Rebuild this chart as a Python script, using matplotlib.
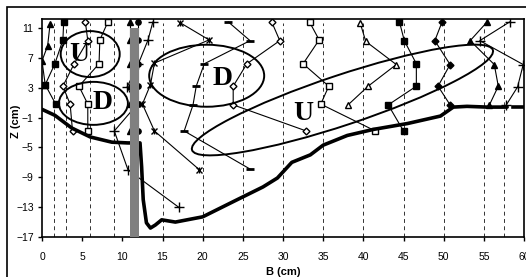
import numpy as np
import matplotlib.pyplot as plt
from matplotlib.patches import Ellipse, Rectangle
import matplotlib.transforms as mtransforms

plt.rcParams['font.family'] = ['Liberation Sans Narrow', 'Liberation Sans', 'DejaVu Sans']

# velocity profiles: B (cm) and Z (cm) of each marker
tri1_b = [1.0, 0.7, 0.0, 0.4, -0.5]
tri1_z = [11.5, 8.6, 6.6, 3.4, 2.0]
sq1_b = [2.7, 2.6, 1.6, 0.4, 1.7]
sq1_z = [11.8, 9.4, 6.2, 3.4, 0.8]
dia1_b = [5.4, 5.7, 4.0, 2.6, 3.5, 3.8]
dia1_z = [11.8, 9.3, 6.2, 3.2, 0.8, -2.8]
osq1_b = [8.2, 7.2, 7.1, 4.6, 5.7, 5.7]
osq1_z = [11.8, 9.4, 6.2, 3.2, 0.8, -2.8]
bar_tri_b = [11.0, 11.0, 11.0, 11.0, 11.0, 11.0]
bar_dot_b = [12.0, 12.0, 12.0, 12.0, 12.0, 12.0]
bar_z = [11.8, 9.4, 6.2, 3.2, 0.8, -2.8]
plus1_b = [13.8, 13.2, 12.0, 10.6, 11.8, 9.0, 10.7, 17.0]
plus1_z = [11.8, 9.4, 6.2, 3.1, 0.7, -2.8, -8.0, -13.0]
star_b = [17.2, 20.8, 14.0, 13.5, 12.5, 14.0, 19.6]
star_z = [11.7, 9.4, 6.3, 3.4, 0.8, -2.8, -8.0]
dash_b = [23.2, 25.9, 20.2, 19.2, 18.8, 17.7, 25.9]
dash_z = [11.8, 9.3, 6.2, 3.2, 0.7, -2.8, -7.9]
dia2_b = [28.6, 29.6, 25.5, 23.8, 23.8, 32.9]
dia2_z = [11.8, 9.3, 6.2, 3.2, 0.7, -2.8]
osq2_b = [33.3, 34.5, 32.5, 35.7, 34.7, 41.5]
osq2_z = [11.8, 9.4, 6.2, 3.2, 0.8, -2.8]
otri_b = [39.6, 40.3, 44.1, 40.6, 38.1]
otri_z = [11.7, 9.2, 6.1, 3.2, 0.7]
sq2_b = [44.5, 45.1, 46.6, 46.6, 43.1, 45.0]
sq2_z = [11.8, 9.3, 6.2, 3.2, 0.7, -2.8]
fdia_b = [49.8, 48.9, 50.8, 49.3, 50.8]
fdia_z = [11.8, 9.3, 6.1, 3.2, 0.7]
tri2_b = [55.4, 53.3, 56.3, 56.8, 55.7]
tri2_z = [11.8, 9.3, 6.1, 3.2, 0.7]
plus2_b = [58.2, 54.5, 59.9, 59.2, 57.8]
plus2_z = [11.8, 9.3, 6.1, 3.1, 0.7]

# bed profile (thick line)
bed_b = [0.0, 1.6, 3.7, 6.0, 8.7, 10.7, 12.2, 12.4, 12.6, 13.0, 13.5, 14.1, 14.9,
         16.6, 20.0, 24.3, 27.5, 29.3, 31.1, 33.4, 35.0, 38.0, 41.2, 45.5, 49.6,
         51.2, 52.9, 55.4, 57.9]
bed_z = [0.1, -0.7, -2.4, -3.6, -4.3, -4.4, -4.4, -7.6, -12.0, -15.1, -15.8, -15.4, -14.7,
         -15.0, -14.3, -12.0, -10.3, -9.1, -7.0, -6.0, -4.7, -3.4, -2.6, -1.8, -0.8,
         0.4, 0.5, 0.4, 0.4]
bed2_b = [58.6, 60.0]
bed2_z = [0.4, 0.4]

# measuring sections
section_b = [1.5, 3, 6, 9, 15, 20, 25, 30, 35, 40, 45, 50, 55, 57.5]

# zones: label, label B, label Z, centre B, centre Z, width px, height px, angle
zone_lab = ['U', 'D', 'D', 'U']
zone_lb = [4.7, 7.6, 22.5, 32.5]
zone_lz = [7.5, 1.0, 4.2, -0.5]
zone_cb = [6.0, 6.4, 20.5, 37.4]
zone_cz = [7.5, 0.9, 4.6, 1.35]
zone_w = [59, 69, 115, 317]
zone_h = [46, 43, 62, 50]
zone_ang = [0, 0, 0, 18.4]

fig = plt.figure(figsize=(5.26, 2.77), dpi=100)
ax = fig.add_axes([42/526, 1-237/277, 482/526, 218/277])

ax.vlines(section_b, -17, 11.7, colors='#333333', linewidth=0.7,
          linestyles=(0, (4, 3.5)), zorder=1)

lw = 0.8
ms = 3.8
ax.plot(tri1_b, tri1_z, '-^', color='k', lw=lw, ms=ms, zorder=2)
ax.plot(sq1_b, sq1_z, '-s', color='k', lw=lw, ms=ms, zorder=2)
ax.plot(dia1_b, dia1_z, '-D', color='k', mfc='white', lw=lw, ms=3.5, zorder=2)
ax.plot(osq1_b, osq1_z, '-s', color='k', mfc='white', lw=lw, ms=ms, zorder=2)
ax.plot(bar_tri_b, bar_z, '-^', color='k', lw=lw, ms=ms, zorder=2)
ax.plot(bar_dot_b, bar_z, '-o', color='k', lw=lw, ms=ms, zorder=2)
ax.plot(plus1_b, plus1_z, '-+', color='k', lw=lw, ms=6.5, mew=1, zorder=2)
ax.plot(star_b, star_z, '-x', color='k', lw=lw, ms=4.5, mew=1, zorder=2)
ax.plot(star_b, star_z, '|', color='k', ms=4.5, mew=1, zorder=2)
ax.plot(dash_b, dash_z, '-_', color='k', lw=lw, ms=5.5, mew=2, zorder=2)
ax.plot(dia2_b, dia2_z, '-D', color='k', mfc='white', lw=lw, ms=3.5, zorder=2)
ax.plot(osq2_b, osq2_z, '-s', color='k', mfc='white', lw=lw, ms=ms, zorder=2)
ax.plot(otri_b, otri_z, '-^', color='k', mfc='white', lw=lw, ms=ms + 0.5, zorder=2)
ax.plot(sq2_b, sq2_z, '-s', color='k', lw=lw, ms=ms + 0.5, zorder=2)
ax.plot(fdia_b, fdia_z, '-D', color='k', lw=lw, ms=3.5, zorder=2)
ax.plot(tri2_b, tri2_z, '-^', color='k', lw=lw, ms=ms, zorder=2)
ax.plot(plus2_b, plus2_z, '-+', color='k', lw=lw, ms=6.5, mew=1, zorder=2)

ax.plot(bed_b, bed_z, color='k', lw=2.6, solid_capstyle='round', zorder=4)
ax.plot(bed2_b, bed2_z, color='k', lw=2.6, zorder=4)

# pier
ax.add_patch(Rectangle((11.0, -17), 1.1, 28, facecolor='#808080', edgecolor='none', zorder=5))

for lab, lb, lz, cb, cz, w, h, a in zip(zone_lab, zone_lb, zone_lz, zone_cb, zone_cz,
                                        zone_w, zone_h, zone_ang):
    tr = fig.dpi_scale_trans + mtransforms.ScaledTranslation(cb, cz, ax.transData)
    ax.add_patch(Ellipse((0, 0), w / 100, h / 100, angle=a, transform=tr,
                         fill=False, edgecolor='k', lw=1.4, zorder=6))
    ax.text(lb, lz, lab, family='Liberation Serif', fontweight='bold', fontsize=20,
            ha='center', va='center', zorder=7)

ax.set_xlim(0, 60)
ax.set_ylim(-17, 12.2)
ax.set_xticks(np.arange(0, 61, 5))
ax.set_yticks([11, 7, 3, -1, -5, -9, -13, -17])
ax.tick_params(axis='x', direction='out', length=3, width=1, pad=7.5, labelsize=7.5)
ax.tick_params(axis='y', direction='out', length=3, width=1, pad=3, labelsize=7.5)
for s in ax.spines.values():
    s.set_linewidth(1.2)

ax.set_xlabel('B (cm)', fontweight='bold', fontsize=8)
ax.xaxis.set_label_coords(0.5, -0.138)
ax.set_ylabel('Z (cm)', fontweight='bold', fontsize=8)
ax.yaxis.set_label_coords(-0.043, 0.53)

# outer frame of the chart area
fig.patches.append(Rectangle((7/526, -0.1), 1.2, 1.1 - 7/277, transform=fig.transFigure,
                             fill=False, edgecolor='k', lw=1.2))

fig.savefig('out.png', dpi=100)
